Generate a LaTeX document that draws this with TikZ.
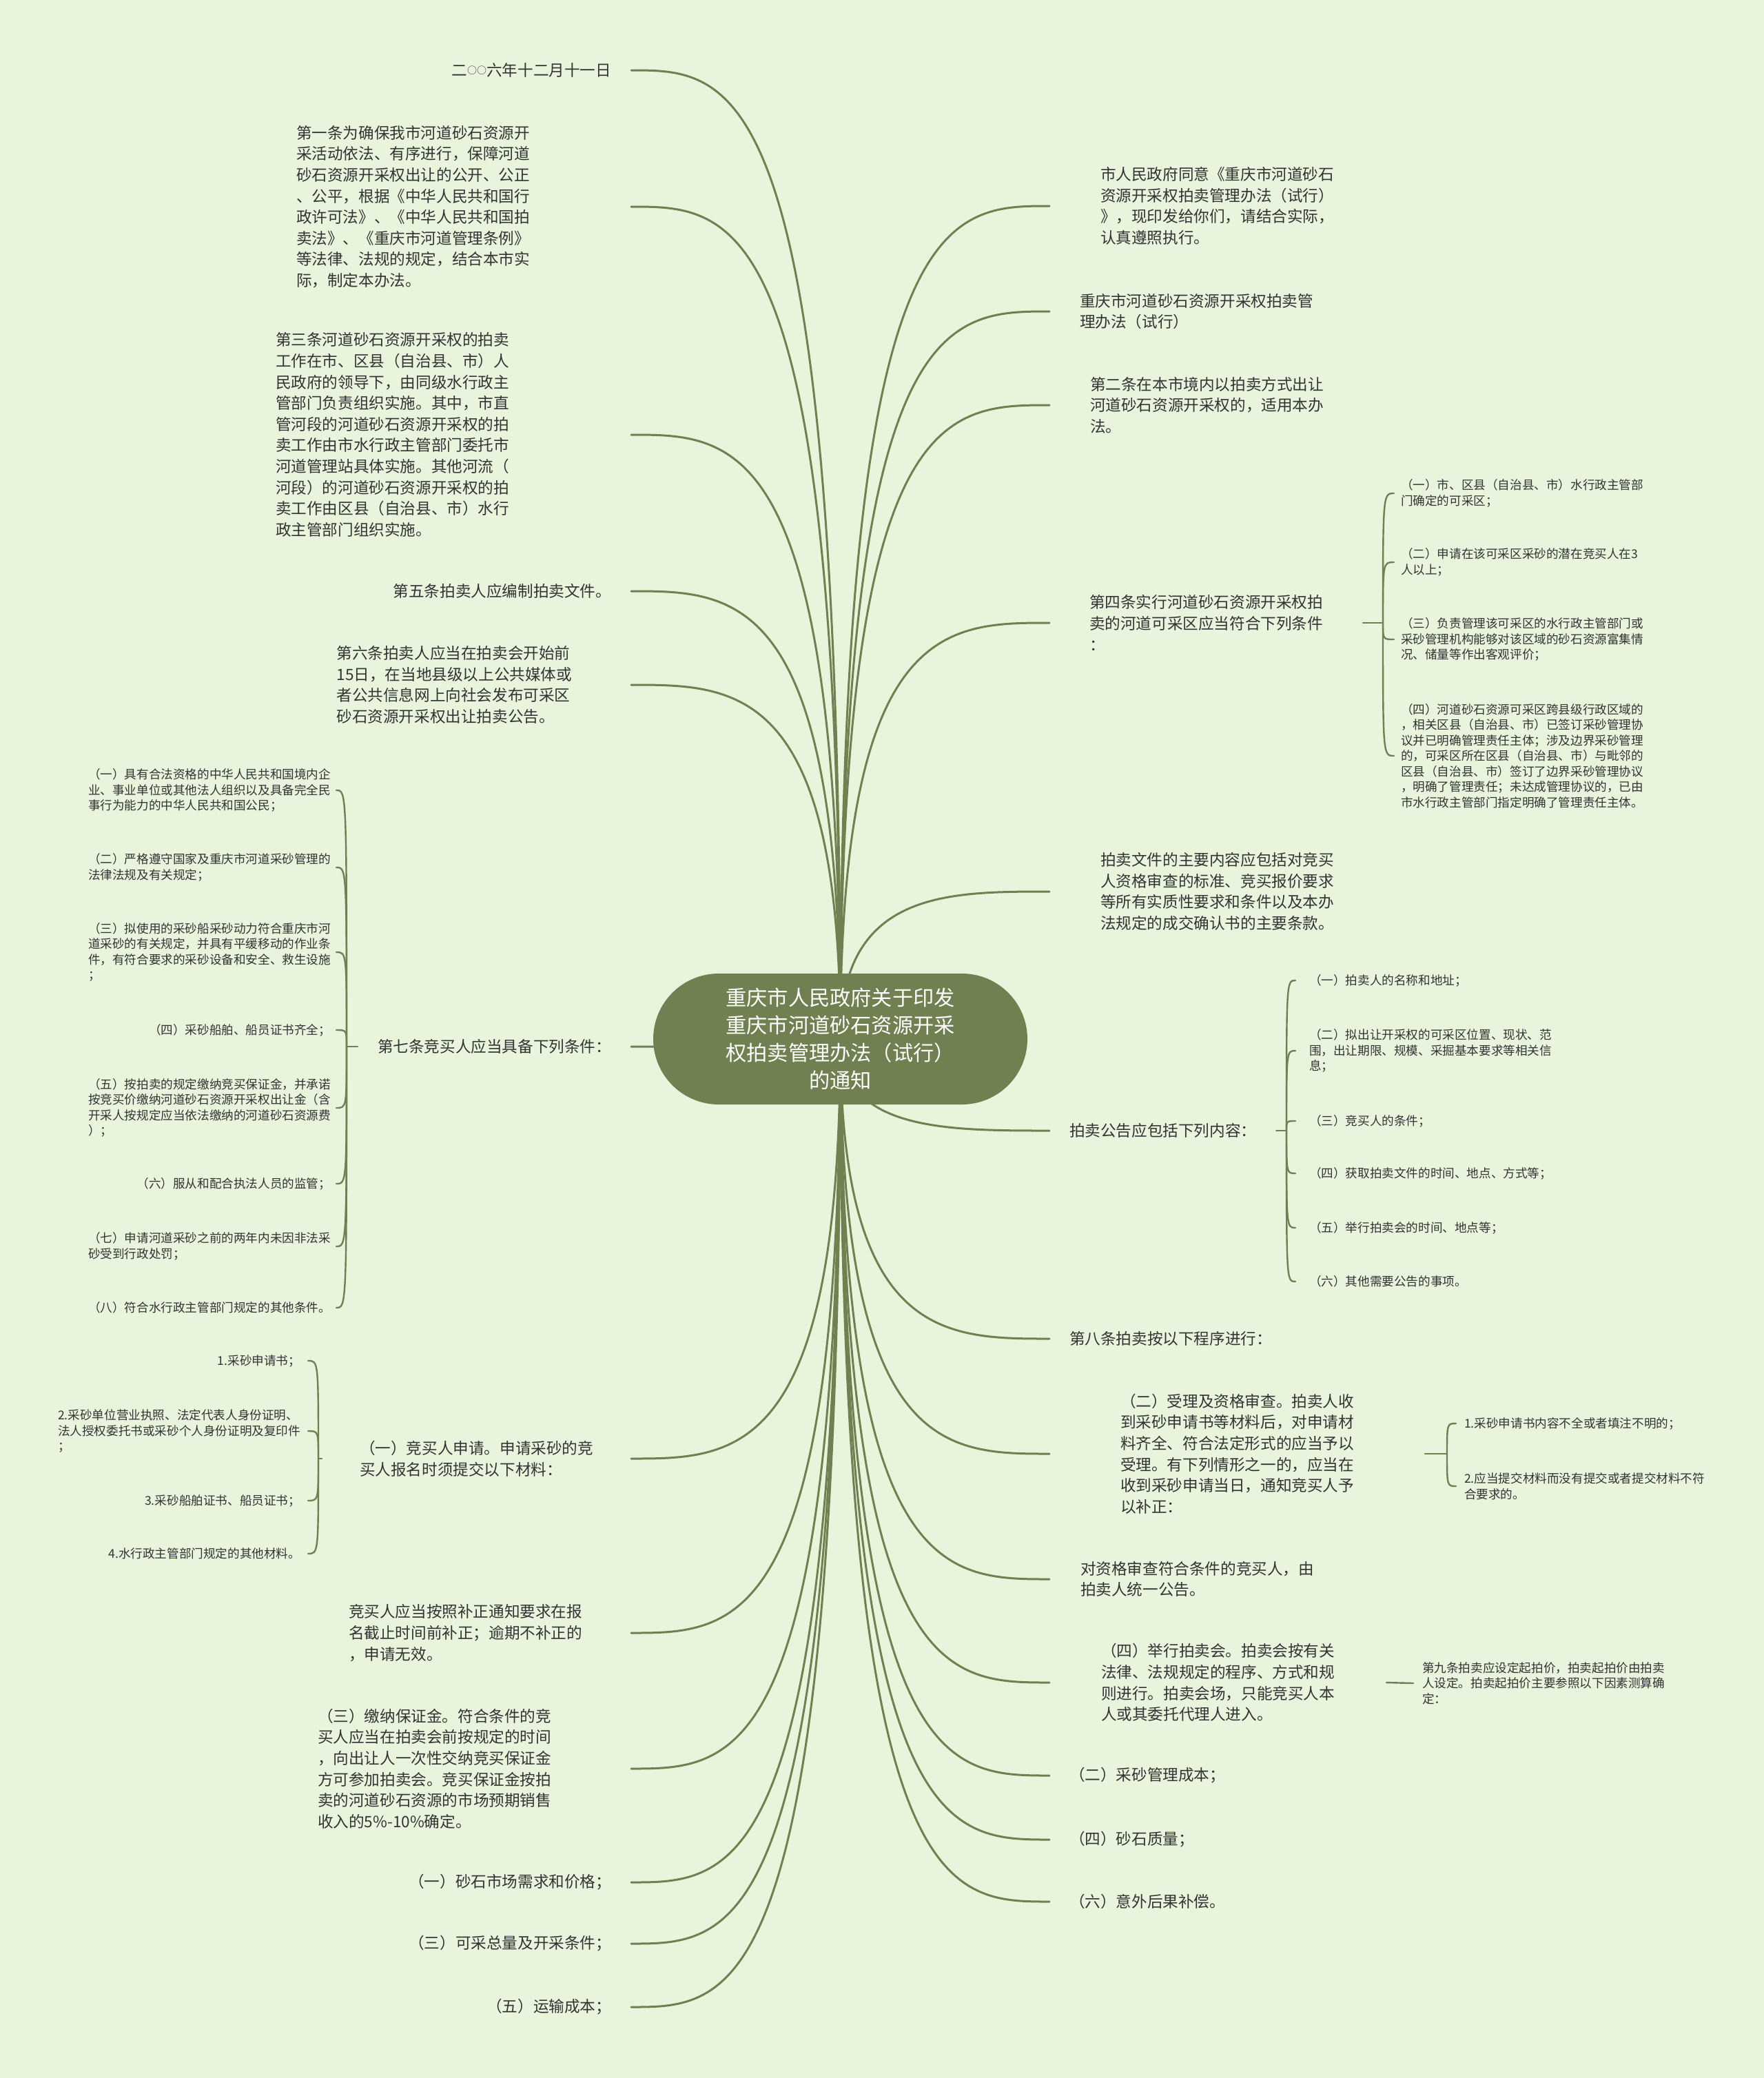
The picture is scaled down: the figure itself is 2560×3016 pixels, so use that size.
\documentclass[tikz,border=0pt]{standalone}
\usepackage{fontspec}
\setmainfont{Noto Sans CJK SC}
\usetikzlibrary{calc}
\definecolor{bgc}{RGB}{232,244,220}
\definecolor{olive}{RGB}{112,128,80}
\definecolor{txt}{RGB}{51,51,51}
\pgfdeclarelayer{back}
\pgfsetlayers{back,main}
\newcommand\smallcirc{\raisebox{1.6pt}{\fontsize{7}{7}\selectfont ○}}
\tikzset{
  conn/.style={draw=olive, line width=1.5pt, line cap=round},
  sub/.style={draw=olive, line width=1.2pt, line cap=round},
  branch/.style={to path={.. controls (\tikztostart |- \tikztotarget) and ($(\tikztostart |- \tikztotarget)!0.5!(\tikztotarget)$) .. (\tikztotarget)}},
  brace/.style={to path={.. controls (\tikztostart |- \tikztotarget) and (\tikztostart |- \tikztotarget) .. (\tikztotarget)}},
  big/.style={font=\fontsize{11.3}{15.3}\selectfont, text=txt, align=left, inner sep=0pt},
  small/.style={font=\fontsize{8.8}{11.25}\selectfont, text=txt, align=left, inner sep=0pt},
  lnode/.style={big, anchor=east, outer xsep=#1},
  rnode/.style={big, anchor=west, outer xsep=#1},
  lsub/.style={small, anchor=east, outer xsep=#1},
  rsub/.style={small, anchor=west, outer xsep=#1},
  rootbox/.style={fill=olive, rounded corners=47.5pt, minimum width=271.5pt, minimum height=95pt, text=white, align=center, font=\fontsize{15.1}{20}\selectfont, inner sep=0pt}
}
\begin{document}
\begin{tikzpicture}[x=0.5pt, y=-0.5pt]
% root
\node[rootbox] (root) at (1219.5,1508) {重庆市人民政府关于印发\\重庆市河道砂石资源开采\\权拍卖管理办法（试行）\\的通知};

% left level-1
\node[lnode=14.5pt] (L1) at (916,102) {二\smallcirc\smallcirc 六年十二月十一日};
\node[lnode=73.5pt] (L2) at (916,300) {第一条为确保我市河道砂石资源开\\采活动依法、有序进行，保障河道\\砂石资源开采权出让的公开、公正\\、公平，根据《中华人民共和国行\\政许可法》、《中华人民共和国拍\\卖法》、《重庆市河道管理条例》\\等法律、法规的规定，结合本市实\\际，制定本办法。};
\node[lnode=88.5pt] (L3) at (916,631) {第三条河道砂石资源开采权的拍卖\\工作在市、区县（自治县、市）人\\民政府的领导下，由同级水行政主\\管部门负责组织实施。其中，市直\\管河段的河道砂石资源开采权的拍\\卖工作由市水行政主管部门委托市\\河道管理站具体实施。其他河流（\\河段）的河道砂石资源开采权的拍\\卖工作由区县（自治县、市）水行\\政主管部门组织实施。};
\node[lnode=14.5pt] (L4) at (916,858) {第五条拍卖人应编制拍卖文件。};
\node[lnode=43pt] (L5) at (916,994) {第六条拍卖人应当在拍卖会开始前\\15日，在当地县级以上公共媒体或\\者公共信息网上向社会发布可采区\\砂石资源开采权出让拍卖公告。};
\node[lnode=14.5pt] (L6) at (916,1519) {第七条竞买人应当具备下列条件：};
\node[lnode=27.5pt] (L7) at (916,2117) {（一）竞买人申请。申请采砂的竞\\买人报名时须提交以下材料：};
\node[lnode=35.5pt] (L8) at (916,2370) {竞买人应当按照补正通知要求在报\\名截止时间前补正；逾期不补正的\\，申请无效。};
\node[lnode=58pt] (L9) at (916,2567) {（三）缴纳保证金。符合条件的竞\\买人应当在拍卖会前按规定的时间\\，向出让人一次性交纳竞买保证金\\方可参加拍卖会。竞买保证金按拍\\卖的河道砂石资源的市场预期销售\\收入的5\%-10\%确定。};
\node[lnode=14.5pt] (L10) at (916,2732) {（一）砂石市场需求和价格；};
\node[lnode=14.5pt] (L11) at (916,2821) {（三）可采总量及开采条件；};
\node[lnode=14.5pt] (L12) at (916,2913) {（五）运输成本；};

% right level-1
\node[rnode=37pt] (R1) at (1523,299) {市人民政府同意《重庆市河道砂石\\资源开采权拍卖管理办法（试行）\\》，现印发给你们，请结合实际，\\认真遵照执行。};
\node[rnode=22pt] (R2) at (1523,452) {重庆市河道砂石资源开采权拍卖管\\理办法（试行）};
\node[rnode=29.5pt] (R3) at (1523,588) {第二条在本市境内以拍卖方式出让\\河道砂石资源开采权的，适用本办\\法。};
\node[rnode=29pt] (R4) at (1523,904) {第四条实行河道砂石资源开采权拍\\卖的河道可采区应当符合下列条件\\：};
\node[rnode=37pt] (R5) at (1523,1294) {拍卖文件的主要内容应包括对竞买\\人资格审查的标准、竞买报价要求\\等所有实质性要求和条件以及本办\\法规定的成交确认书的主要条款。};
\node[rnode=14.5pt] (R6) at (1523,1641) {拍卖公告应包括下列内容：};
\node[rnode=14.5pt] (R7) at (1523,1943) {第八条拍卖按以下程序进行：};
\node[rnode=51.5pt] (R8) at (1523,2110) {（二）受理及资格审查。拍卖人收\\到采砂申请书等材料后，对申请材\\料齐全、符合法定形式的应当予以\\受理。有下列情形之一的，应当在\\收到采砂申请当日，通知竞买人予\\以补正：};
\node[rnode=22.5pt] (R9) at (1523,2292) {对资格审查符合条件的竞买人，由\\拍卖人统一公告。};
\node[rnode=37.5pt] (R10) at (1523,2442) {（四）举行拍卖会。拍卖会按有关\\法律、法规规定的程序、方式和规\\则进行。拍卖会场，只能竞买人本\\人或其委托代理人进入。};
\node[rnode=14.5pt] (R11) at (1523,2577) {（二）采砂管理成本；};
\node[rnode=14.5pt] (R12) at (1523,2670) {（四）砂石质量；};
\node[rnode=14.5pt] (R13) at (1523,2760) {（六）意外后果补偿。};

% children of L6 (第七条)
\node[lsub=4pt] (K1) at (488,1147) {（一）具有合法资格的中华人民共和国境内企\\业、事业单位或其他法人组织以及具备完全民\\事行为能力的中华人民共和国公民；};
\node[lsub=4pt] (K2) at (488,1259) {（二）严格遵守国家及重庆市河道采砂管理的\\法律法规及有关规定；};
\node[lsub=4pt] (K3) at (488,1382) {（三）拟使用的采砂船采砂动力符合重庆市河\\道采砂的有关规定，并具有平缓移动的作业条\\件，有符合要求的采砂设备和安全、救生设施\\；};
\node[lsub=4pt] (K4) at (488,1495) {（四）采砂船舶、船员证书齐全；};
\node[lsub=4pt] (K5) at (488,1608) {（五）按拍卖的规定缴纳竞买保证金，并承诺\\按竞买价缴纳河道砂石资源开采权出让金（含\\开采人按规定应当依法缴纳的河道砂石资源费\\）；};
\node[lsub=4pt] (K6) at (488,1718) {（六）服从和配合执法人员的监管；};
\node[lsub=4pt] (K7) at (488,1809) {（七）申请河道采砂之前的两年内未因非法采\\砂受到行政处罚；};
\node[lsub=4pt] (K8) at (488,1898) {（八）符合水行政主管部门规定的其他条件。};

% children of L7
\node[lsub=5.5pt] (M1) at (447,1975) {1.采砂申请书；};
\node[lsub=5.5pt] (M2) at (447,2077) {2.采砂单位营业执照、法定代表人身份证明、\\法人授权委托书或采砂个人身份证明及复印件\\；};
\node[lsub=5.5pt] (M3) at (447,2178) {3.采砂船舶证书、船员证书；};
\node[lsub=5.5pt] (M4) at (447,2255) {4.水行政主管部门规定的其他材料。};

% children of R4
\node[rsub=5pt] (C1) at (2023,716) {（一）市、区县（自治县、市）水行政主管部\\门确定的可采区；};
\node[rsub=5pt] (C2) at (2023,816) {（二）申请在该可采区采砂的潜在竞买人在3\\人以上；};
\node[rsub=5pt] (C3) at (2023,928) {（三）负责管理该可采区的水行政主管部门或\\采砂管理机构能够对该区域的砂石资源富集情\\况、储量等作出客观评价；};
\node[rsub=5pt] (C4) at (2023,1097) {（四）河道砂石资源可采区跨县级行政区域的\\，相关区县（自治县、市）已签订采砂管理协\\议并已明确管理责任主体；涉及边界采砂管理\\的，可采区所在区县（自治县、市）与毗邻的\\区县（自治县、市）签订了边界采砂管理协议\\，明确了管理责任；未达成管理协议的，已由\\市水行政主管部门指定明确了管理责任主体。};

% children of R6
\node[rsub=10pt] (D1) at (1880,1423) {（一）拍卖人的名称和地址；};
\node[rsub=10pt] (D2) at (1880,1525) {（二）拟出让开采权的可采区位置、现状、范\\围，出让期限、规模、采掘基本要求等相关信\\息；};
\node[rsub=10pt] (D3) at (1880,1627) {（三）竞买人的条件；};
\node[rsub=10pt] (D4) at (1880,1703) {（四）获取拍卖文件的时间、地点、方式等；};
\node[rsub=10pt] (D5) at (1880,1782) {（五）举行拍卖会的时间、地点等；};
\node[rsub=10pt] (D6) at (1880,1860) {（六）其他需要公告的事项。};

% children of R8
\node[rsub=6pt] (E1) at (2113,2066) {1.采砂申请书内容不全或者填注不明的；};
\node[rsub=6pt] (E2) at (2113,2157) {2.应当提交材料而没有提交或者提交材料不符\\合要求的。};

% child of R10
\node[rsub=6.5pt] (F1) at (2051,2443) {第九条拍卖应设定起拍价，拍卖起拍价由拍卖\\人设定。拍卖起拍价主要参照以下因素测算确\\定：};

% junctions
\coordinate (J7) at (503,1519);
\coordinate (JA) at (462,2117);
\coordinate (J4) at (2007,904);
\coordinate (J6) at (1867,1641);
\coordinate (J8) at (2100,2110);

\begin{pgfonlayer}{back}
\fill[bgc] (0,0) rectangle (2560,3016);
\foreach \i in {1,...,12} \draw[conn] (root.center) to[branch] (L\i.east);
\foreach \i in {1,...,13} \draw[conn] (root.center) to[branch] (R\i.west);
\draw[sub] (L6.west) -- (J7);
\foreach \i in {1,...,8} \draw[sub] (J7) to[brace] (K\i.east);
\draw[sub] (L7.west) -- (JA);
\foreach \i in {1,...,4} \draw[sub] (JA) to[brace] (M\i.east);
\draw[sub] (R4.east) -- (J4);
\foreach \i in {1,...,4} \draw[sub] (J4) to[brace] (C\i.west);
\draw[sub] (R6.east) -- (J6);
\foreach \i in {1,...,6} \draw[sub] (J6) to[brace] (D\i.west);
\draw[sub] (R8.east) -- (J8);
\foreach \i in {1,2} \draw[sub] (J8) to[brace] (E\i.west);
\draw[sub] (R10.east) -- (F1.west);
\end{pgfonlayer}
\end{tikzpicture}
\end{document}
